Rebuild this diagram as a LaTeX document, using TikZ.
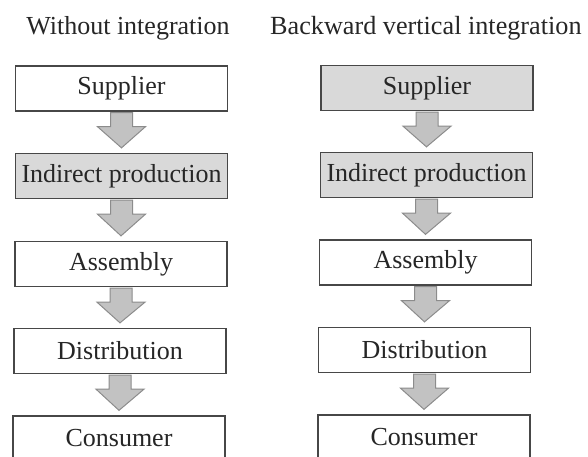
\documentclass[tikz,border=0pt]{standalone}
\usepackage{fontspec}
\setmainfont{Liberation Serif}
\usetikzlibrary{calc}
\begin{document}
\begin{tikzpicture}[x=1pt, y=-1pt,
  every node/.style={font=\fontsize{26}{30}\selectfont, text=black!85},
  stagebox/.style={draw=black!72, line width=1.3pt, minimum width=212pt, minimum height=45pt, inner sep=0pt, fill=white},
  shadedbox/.style={stagebox, fill=black!15},
  flow/.style={fill=black!24, draw=black!45, line width=1pt, line join=miter}]
  \clip (0,0) rectangle (588,456);
  % column titles
  \node[anchor=base] (tleft) at (128,34) {Without integration};
  \node[anchor=base west, inner sep=0pt, font=\fontsize{26.2}{30}\selectfont] (tright) at (270,34) {Backward vertical integration};
  % without integration
  \node[stagebox]  (lsup) at (121.5,88.5) {Supplier};
  \node[shadedbox] (lind) at (121.5,176) {Indirect production};
  \node[stagebox]  (lasm) at (121,264) {Assembly};
  \node[stagebox]  (ldis) at (120,351) {Distribution};
  \node[stagebox]  (lcon) at (119,438.5) {Consumer};
  % backward vertical integration
  \node[shadedbox] (rsup) at (427,88) {Supplier};
  \node[shadedbox] (rind) at (426.5,175) {Indirect production};
  \node[stagebox]  (rasm) at (425.5,262.5) {Assembly};
  \node[stagebox]  (rdis) at (424.5,350) {Distribution};
  \node[stagebox]  (rcon) at (424,437.5) {Consumer};
  % block arrows
  \foreach \a/\b in {lsup/lind, lind/lasm, lasm/ldis, ldis/lcon,
                     rsup/rind, rind/rasm, rasm/rdis, rdis/rcon} {
    \draw[flow] ($(\a.south)+(-11,1)$) -- ++(0,14) -- ++(-13,0)
      -- ($(\b.north)+(0,-5)$) -- ($(\a.south)+(24,15)$)
      -- ++(-13,0) -- ($(\a.south)+(11,1)$) -- cycle;
  }
\end{tikzpicture}
\end{document}
